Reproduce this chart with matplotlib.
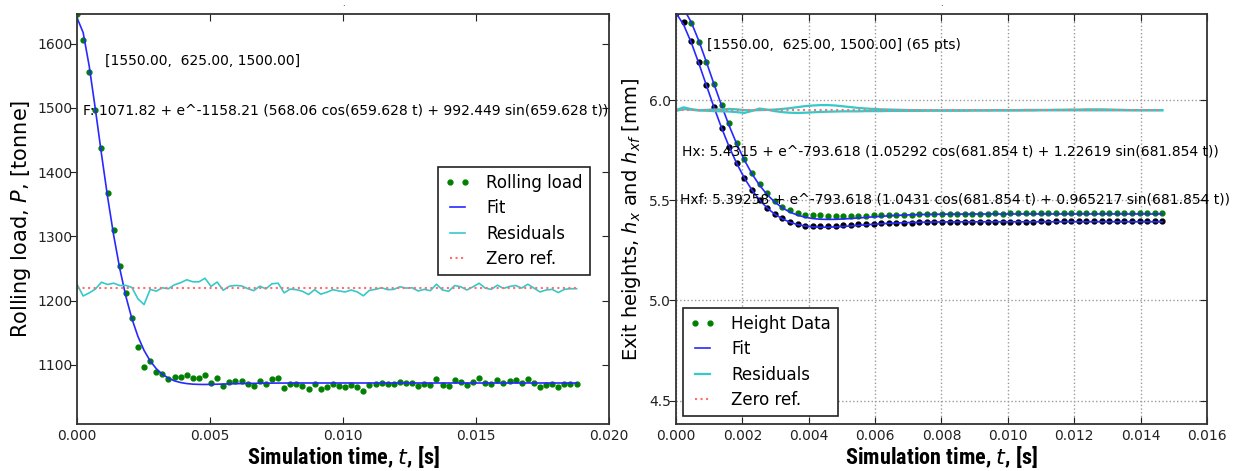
import numpy as np
import matplotlib

matplotlib.use("Agg")
import matplotlib.pyplot as plt  # noqa: E402
import matplotlib.lines as mlines  # noqa: E402

# ---- left panel: rolling load -------------------------------------------
LOAD_DT = 0.000229
LOAD = [1646, 1605, 1556, 1497, 1438, 1368, 1310, 1254, 1211.5, 1172.5,
        1127.5, 1096.5, 1105.5, 1089.5, 1086, 1078.5, 1080.5, 1081, 1084, 1080,
        1079.5, 1085, 1072.5, 1079.5, 1067, 1073.5, 1075, 1074.5, 1070.5, 1067.5,
        1074.5, 1070.5, 1078.5, 1079.5, 1064.5, 1070.5, 1069.5, 1067, 1062, 1069.5,
        1062.5, 1065.5, 1069.5, 1067.5, 1066, 1069, 1066, 1060, 1068.5, 1070,
        1072.5, 1069.5, 1070, 1074, 1072, 1072.5, 1067.5, 1070, 1068, 1078,
        1069, 1067, 1076, 1074, 1069, 1074, 1079.5, 1072, 1070, 1076.5,
        1071.5, 1074.5, 1076, 1072, 1078, 1072, 1066, 1069, 1070, 1065,
        1070, 1071, 1071]
LOAD_FIT = [1639.9, 1617.1, 1564.6, 1498.4, 1428.7, 1362.2, 1302.2, 1250.4, 1207.1, 1171.9,
            1144.1, 1122.5, 1106.2, 1094.1, 1085.4, 1079.3, 1075.1, 1072.5, 1070.9, 1070.0,
            1069.6, 1069.5, 1069.7, 1069.9, 1070.2, 1070.4, 1070.7, 1070.9, 1071.1, 1071.3,
            1071.4, 1071.55, 1071.6, 1071.7, 1071.7] + [1071.8] * 48
LOAD_RESID = [1225.4, 1207.2, 1212, 1217.9, 1228.6, 1225.1, 1227.1, 1223.5, 1223.7, 1220.5,
              1202.7, 1193.8, 1217.5, 1214.7, 1219.9, 1218.5, 1224.7, 1227.8, 1232.4, 1229.3,
              1229.2, 1234.8, 1222.1, 1228.9, 1216.1, 1222.4, 1223.6, 1222.9, 1218.7, 1215.5,
              1222.4, 1218.3, 1226.2, 1227.1, 1212.1, 1218, 1217, 1214.5, 1209.5, 1217,
              1210, 1213, 1217, 1215, 1213.5, 1216.5, 1213.5, 1207.5, 1216, 1217.5,
              1220, 1217, 1217.5, 1221.5, 1219.5, 1220, 1215, 1217.5, 1215.5, 1225.5,
              1216.5, 1214.5, 1223.5, 1221.5, 1216.5, 1221.5, 1227, 1219.5, 1217.5, 1224,
              1219, 1222, 1223.5, 1219.5, 1225.5, 1219.5, 1213.5, 1216.5, 1217.5, 1212.5,
              1217.5, 1218.5, 1218.5]
LOAD_ZERO = 1219.3

# ---- right panel: exit heights ------------------------------------------
H_DT = 0.000229
HX = [6.484, 6.458, 6.386, 6.289, 6.188, 6.079, 5.976, 5.884, 5.786, 5.706,
      5.638, 5.580, 5.534, 5.497, 5.468, 5.449, 5.436, 5.428, 5.424, 5.424,
      5.423, 5.422, 5.421, 5.421, 5.422, 5.423, 5.424, 5.425, 5.426, 5.427,
      5.428, 5.428, 5.429, 5.430, 5.430, 5.431, 5.432, 5.432, 5.432, 5.433,
      5.433, 5.433, 5.434, 5.433, 5.434, 5.434, 5.435, 5.434, 5.435, 5.435,
      5.435, 5.436, 5.435, 5.436, 5.436, 5.437, 5.437, 5.438, 5.437, 5.437,
      5.436, 5.437, 5.437, 5.436, 5.436]
HXF = [6.436, 6.392, 6.296, 6.189, 6.076, 5.966, 5.861, 5.768, 5.684, 5.612,
       5.551, 5.502, 5.462, 5.432, 5.409, 5.392, 5.381, 5.374, 5.371, 5.370,
       5.371, 5.373, 5.375, 5.377, 5.379, 5.381, 5.383, 5.384, 5.385, 5.386,
       5.387, 5.388, 5.389, 5.389, 5.390, 5.390, 5.391, 5.391, 5.391, 5.392,
       5.392, 5.392, 5.392, 5.393, 5.393, 5.393, 5.393, 5.393, 5.394, 5.393,
       5.394, 5.394, 5.394, 5.394, 5.394, 5.395, 5.394, 5.395, 5.395, 5.395,
       5.394, 5.395, 5.395, 5.394, 5.394]
HX_FIT = [6.4844, 6.4577, 6.3900, 6.2971, 6.1910, 6.0807, 5.9732, 5.8722, 5.7810, 5.7009,
          5.6322, 5.5750, 5.5282, 5.4911, 5.4624, 5.4409, 5.4256, 5.4154, 5.4086, 5.4053,
          5.4043, 5.4048, 5.4065, 5.4088, 5.4115, 5.4144, 5.4172, 5.4198, 5.4222, 5.4243,
          5.4260, 5.4274, 5.4285, 5.4294, 5.4300, 5.4305, 5.4308, 5.4310, 5.4312, 5.4313,
          5.4314] + [5.4315] * 24
HXF_FIT = [6.4357, 6.3769, 6.2889, 6.1848, 6.0745, 5.9650, 5.8616, 5.7671, 5.6835, 5.6115,
           5.5509, 5.5013, 5.4615, 5.4306, 5.4072, 5.3902, 5.3786, 5.3713, 5.3669, 5.3653,
           5.3655, 5.3669, 5.3691, 5.3718, 5.3746, 5.3775, 5.3802, 5.3826, 5.3847, 5.3865,
           5.3880, 5.3892, 5.3900, 5.3907, 5.3913, 5.3917, 5.3920, 5.3922, 5.3923, 5.3924,
           5.3925] + [5.3926] * 24
HX_RESID = [5.950, 5.964, 5.955, 5.950, 5.951, 5.953, 5.954, 5.956, 5.954, 5.950,
            5.949, 5.950, 5.951, 5.953, 5.956, 5.960, 5.965, 5.970, 5.973, 5.975,
            5.975, 5.973, 5.969, 5.965, 5.961, 5.958, 5.956, 5.954, 5.953, 5.952,
            5.951, 5.950, 5.950, 5.949, 5.949, 5.949, 5.949, 5.949, 5.949, 5.949,
            5.949, 5.949, 5.950, 5.950, 5.950, 5.950, 5.951, 5.951, 5.951, 5.951,
            5.952, 5.952, 5.953, 5.953, 5.954, 5.954, 5.954, 5.953, 5.952, 5.951,
            5.950, 5.950, 5.950, 5.950, 5.950]
HXF_RESID = [5.946, 5.955, 5.952, 5.948, 5.947, 5.945, 5.944, 5.943, 5.940, 5.936,
             5.946, 5.958, 5.952, 5.945, 5.940, 5.937, 5.936, 5.937, 5.939, 5.941,
             5.942, 5.943, 5.944, 5.944, 5.944, 5.945, 5.945, 5.945, 5.946, 5.946,
             5.946, 5.946, 5.946, 5.947, 5.947, 5.947, 5.947, 5.947, 5.947, 5.948,
             5.948, 5.948, 5.948, 5.948, 5.948, 5.948, 5.948, 5.948, 5.949, 5.949,
             5.949, 5.949, 5.949, 5.949, 5.949, 5.949, 5.949, 5.949, 5.949, 5.949,
             5.949, 5.949, 5.949, 5.949, 5.949]
H_ZERO = 5.949

LOAD_NOTE = "[1550.00,  625.00, 1500.00]"
LOAD_EQ = "F: 1071.82 + e^-1158.21 (568.06 cos(659.628 t) + 992.449 sin(659.628 t))"
H_NOTE = "[1550.00,  625.00, 1500.00] (65 pts)"
HX_EQ = "Hx: 5.4315 + e^-793.618 (1.05292 cos(681.854 t) + 1.22619 sin(681.854 t))"
HXF_EQ = "Hxf: 5.39258 + e^-793.618 (1.0431 cos(681.854 t) + 0.965217 sin(681.854 t))"

GREEN, BLUE, CYAN, RED = "#008000", "#2828ff", "#35c9c9", "#ff6f6f"
XLAB_FONT = dict(family=["Roboto Condensed", "Ubuntu Condensed", "Pragati Narrow",
                         "DejaVu Sans"],
                 fontweight="bold", fontsize=16)


def style_axes(ax):
    for sp in ax.spines.values():
        sp.set_color("#333333")
        sp.set_linewidth(1.3)
    ax.tick_params(direction="in", labelsize=10, colors="#222222",
                   top=True, right=True, length=5)
    # left-hand y ticks point outwards, as in the original
    for t in ax.yaxis.get_major_ticks():
        t.tick1line.set_marker(mlines.TICKLEFT)
    ax.text(0.5, 1.02, ".", transform=ax.transAxes, ha="center", fontsize=6)


def legend(ax, loc, anchor):
    leg = ax.legend(loc=loc, bbox_to_anchor=anchor, borderaxespad=0,
                    fontsize=12, numpoints=2, handlelength=1.5,
                    handletextpad=1.0, fancybox=False, framealpha=1,
                    labelspacing=0.45)
    leg.get_frame().set_edgecolor("#222222")
    leg.get_frame().set_linewidth(1.2)


fig = plt.figure(figsize=(12.55, 4.71), dpi=100)
ax1 = fig.add_axes([0.0614, 0.0998, 0.4239, 0.8705])
ax2 = fig.add_axes([0.5386, 0.0998, 0.4231, 0.8705])

# left
t1 = np.arange(len(LOAD)) * LOAD_DT
ax1.plot(t1, LOAD, ".", color=GREEN, ms=7, label="Rolling load")
ax1.plot(t1, LOAD_FIT, "-", color=BLUE, lw=1.2, label="Fit")
ax1.plot(t1, LOAD_RESID, "-", color=CYAN, lw=1.2, label="Residuals")
ax1.plot([t1[0], t1[-1]], [LOAD_ZERO, LOAD_ZERO], ":", color=RED, lw=1.5,
         label="Zero ref.")
ax1.set_xlim(0, 0.02)
ax1.set_ylim(1008, 1646)
ax1.set_xticks(np.arange(0, 0.0201, 0.005))
ax1.set_yticks(np.arange(1100, 1601, 100))
ax1.xaxis.set_major_formatter(matplotlib.ticker.FormatStrFormatter("%.3f"))
ax1.text(0.00105, 1573, LOAD_NOTE, fontsize=10, va="center")
ax1.text(0.00021, 1496, LOAD_EQ, fontsize=10, va="center")
ax1.set_ylabel("Rolling load, $P$, [tonne]", fontsize=15)
ax1.yaxis.set_label_coords(-0.083, 0.5)
ax1.set_xlabel("Simulation time, $t$, [s]", **XLAB_FONT)
ax1.xaxis.set_label_coords(0.5, -0.048)
style_axes(ax1)
legend(ax1, "upper left", (0.6786, 0.6268))

# right
t2 = np.arange(len(HX)) * H_DT
ax2.plot(t2, HX, ".", color=GREEN, ms=7, label="Height Data")
ax2.plot(t2, HXF, ".", color="black", ms=7)
ax2.plot(t2, HX_FIT, "-", color=BLUE, lw=1.2, label="Fit")
ax2.plot(t2, HXF_FIT, "-", color=BLUE, lw=1.2)
ax2.plot(t2, HX_RESID, "-", color=CYAN, lw=1.6, label="Residuals")
ax2.plot(t2, HXF_RESID, "-", color=CYAN, lw=1.6)
ax2.plot([t2[0], t2[-1]], [H_ZERO, H_ZERO], ":", color=RED, lw=1.5,
         label="Zero ref.")
ax2.set_xlim(0, 0.016)
ax2.set_ylim(4.383, 6.43)
ax2.set_xticks(np.arange(0, 0.01601, 0.002))
ax2.set_yticks([4.5, 5.0, 5.5, 6.0])
ax2.xaxis.set_major_formatter(matplotlib.ticker.FormatStrFormatter("%.3f"))
ax2.yaxis.set_major_formatter(matplotlib.ticker.FormatStrFormatter("%.1f"))
ax2.grid(True, ls=":", color="#9a9a9a", lw=1)
ax2.text(0.00094, 6.2775, H_NOTE, fontsize=10, va="center")
ax2.text(0.00018, 5.741, HX_EQ, fontsize=10, va="center")
ax2.text(0.00012, 5.5025, HXF_EQ, fontsize=10, va="center")
ax2.set_ylabel("Exit heights, $h_x$ and $h_{xf}$ [mm]", fontsize=14)
ax2.yaxis.set_label_coords(-0.062, 0.5)
ax2.set_xlabel("Simulation time, $t$, [s]", **XLAB_FONT)
ax2.xaxis.set_label_coords(0.5, -0.048)
style_axes(ax2)
legend(ax2, "lower left", (0.0132, 0.0195))

fig.savefig("out.png", dpi=100)
